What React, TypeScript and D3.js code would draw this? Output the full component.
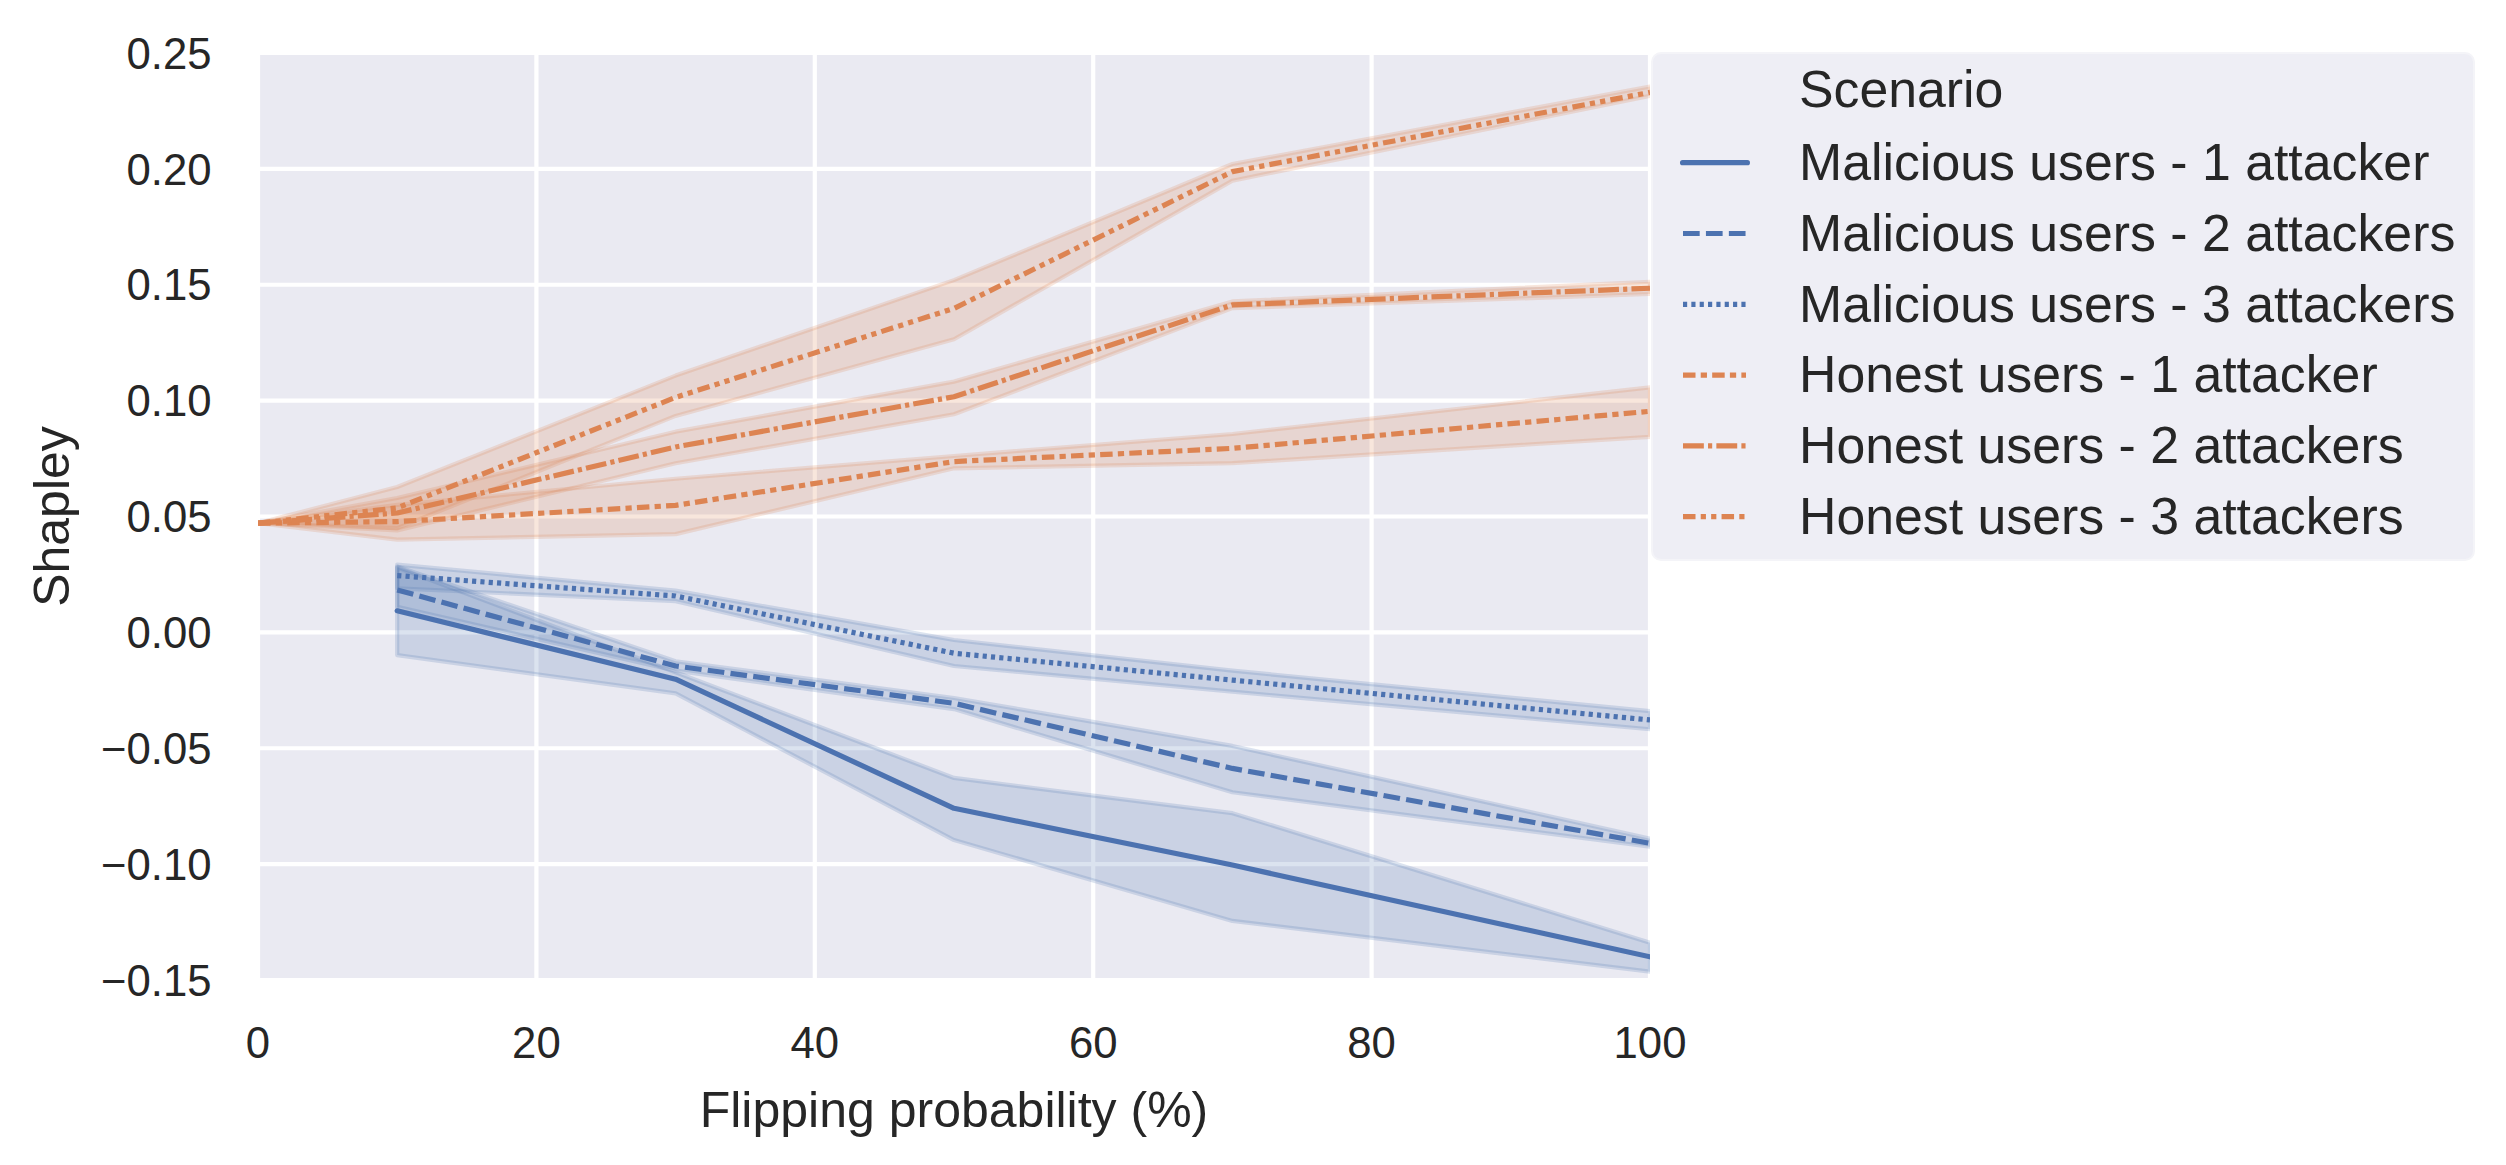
import React from "react";
import * as d3 from "d3";

// ---------- data ----------
const xTicks = [0, 20, 40, 60, 80, 100];
const yTicks = [-0.15, -0.1, -0.05, 0, 0.05, 0.1, 0.15, 0.2, 0.25];

const maliciousX = [10, 30, 50, 70, 100];
const honestX = [0, 10, 30, 50, 70, 100];

const mal1Mean = [0.0093, -0.0202, -0.0759, -0.1004, -0.140];
const mal1Lo = [-0.0098, -0.0263, -0.0896, -0.1245, -0.1464];
const mal1Hi = [0.028, -0.0172, -0.0628, -0.078, -0.1339];

const mal2Mean = [0.0183, -0.0145, -0.0306, -0.0587, -0.091];
const mal2Lo = [0.011, -0.0165, -0.0331, -0.069, -0.0925];
const mal2Hi = [0.0284, -0.0125, -0.0283, -0.049, -0.089];

const mal3Mean = [0.0245, 0.0157, -0.009, -0.0206, -0.0378];
const mal3Lo = [0.019, 0.0135, -0.0145, -0.0256, -0.0418];
const mal3Hi = [0.0292, 0.018, -0.0033, -0.0165, -0.034];

const hon1Mean = [0.0471, 0.0478, 0.0548, 0.0737, 0.0794, 0.0954];
const hon1Lo = [0.0471, 0.040, 0.0424, 0.0708, 0.073, 0.0844];
const hon1Hi = [0.0471, 0.055, 0.0663, 0.0761, 0.0856, 0.1057];

const hon2Mean = [0.0471, 0.0515, 0.080, 0.1017, 0.1413, 0.1485];
const hon2Lo = [0.0471, 0.044, 0.073, 0.0941, 0.1399, 0.146];
const hon2Hi = [0.0471, 0.058, 0.0866, 0.1082, 0.1428, 0.1513];

const hon3Mean = [0.0471, 0.0537, 0.1014, 0.1398, 0.1988, 0.233];
const hon3Lo = [0.0471, 0.045, 0.0934, 0.1265, 0.1949, 0.2315];
const hon3Hi = [0.0471, 0.0627, 0.1108, 0.152, 0.2021, 0.2355];

const seriesLabels = [
  "Malicious users - 1 attacker",
  "Malicious users - 2 attackers",
  "Malicious users - 3 attackers",
  "Honest users - 1 attacker",
  "Honest users - 2 attackers",
  "Honest users - 3 attackers",
];

const BLUE = "#4C72B0";
const ORANGE = "#DD8452";
const U = 4.17; // dash unit in px
const LW = 5.2; // line width in px
const dashPatterns: number[][] = [
  [],
  [4, 1.5],
  [1, 1],
  [3, 1.25, 1.5, 1.25],
  [5, 1, 1, 1],
  [3, 1.25, 1.25, 1.25, 1.25, 1.25],
];

type Series = {
  label: string;
  color: string;
  dash: string;
  x: number[];
  mean: number[];
  lo: number[];
  hi: number[];
};

const series: Series[] = [
  { x: maliciousX, mean: mal1Mean, lo: mal1Lo, hi: mal1Hi },
  { x: maliciousX, mean: mal2Mean, lo: mal2Lo, hi: mal2Hi },
  { x: maliciousX, mean: mal3Mean, lo: mal3Lo, hi: mal3Hi },
  { x: honestX, mean: hon1Mean, lo: hon1Lo, hi: hon1Hi },
  { x: honestX, mean: hon2Mean, lo: hon2Lo, hi: hon2Hi },
  { x: honestX, mean: hon3Mean, lo: hon3Lo, hi: hon3Hi },
].map((s, i) => ({
  ...s,
  label: seriesLabels[i],
  color: i < 3 ? BLUE : ORANGE,
  dash: dashPatterns[i].map((d) => (d * U).toFixed(2)).join(" "),
}));

// ---------- layout ----------
const W = 2506;
const H = 1165;
const L = 258;
const R = 1650;
const T = 53;
const B = 980;
const FONT = "'Liberation Sans', Arial, Helvetica, sans-serif";
const TEXT = "#262626";

export default function App() {
  const x = d3.scaleLinear().domain([0, 100]).range([L, R]);
  const y = d3.scaleLinear().domain([-0.15, 0.25]).range([B, T]);

  const fmt = (v: number) => {
    const s = d3.format(".2f")(Math.abs(v));
    return v < -1e-9 ? "\u2212" + s : s;
  };

  const lineGen = (s: Series) =>
    d3
      .line<number>()
      .x((_, i) => x(s.x[i]))
      .y((d) => y(d))(s.mean) || "";

  const areaGen = (s: Series) =>
    d3
      .area<number>()
      .x((_, i) => x(s.x[i]))
      .y0((_, i) => y(s.lo[i]))
      .y1((_, i) => y(s.hi[i]))(s.mean) || "";

  const legX = 1652;
  const legY = 53;
  const legW = 822;
  const legH = 507;
  const rowH = 70.8;

  return (
    <div style={{ position: "absolute", left: 0, top: 0, width: W, height: H, background: "#fff" }}>
      <svg width={W} height={H} viewBox={`0 0 ${W} ${H}`} style={{ display: "block" }}>
        <defs>
          <clipPath id="plotClip">
            <rect x={L} y={T} width={R - L} height={B - T} />
          </clipPath>
        </defs>
        <rect x={0} y={0} width={W} height={H} fill="#ffffff" />
        <rect x={L} y={T} width={R - L} height={B - T} fill="#EAEAF2" />
        {/* grid */}
        {xTicks.map((t) => (
          <line key={"gx" + t} x1={x(t)} x2={x(t)} y1={T} y2={B} stroke="#fff" strokeWidth={4.2} />
        ))}
        {yTicks.map((t) => (
          <line key={"gy" + t} x1={L} x2={R} y1={y(t)} y2={y(t)} stroke="#fff" strokeWidth={4.2} />
        ))}
        <g clipPath="url(#plotClip)">
          {/* bands */}
          {series.map((s, i) => (
            <path
              key={"band" + i}
              d={areaGen(s)}
              fill={s.color}
              fillOpacity={0.2}
              stroke={s.color}
              strokeOpacity={0.2}
              strokeWidth={4.2}
              strokeLinejoin="round"
            />
          ))}
          {/* lines */}
          {series.map((s, i) => (
            <path
              key={"line" + i}
              d={lineGen(s)}
              fill="none"
              stroke={s.color}
              strokeWidth={LW}
              strokeDasharray={s.dash || undefined}
              strokeLinecap={s.dash ? "butt" : "round"}
              strokeLinejoin="round"
            />
          ))}
        </g>
        {/* tick labels */}
        {yTicks.map((t) => (
          <text
            key={"ty" + t}
            x={211.5}
            y={y(t)}
            dy="0.36em"
            textAnchor="end"
            fontFamily={FONT}
            fontSize={43.7}
            fill={TEXT}
          >
            {fmt(t)}
          </text>
        ))}
        {xTicks.map((t) => (
          <text
            key={"tx" + t}
            x={x(t)}
            y={1058}
            textAnchor="middle"
            fontFamily={FONT}
            fontSize={43.7}
            fill={TEXT}
          >
            {t}
          </text>
        ))}
        {/* axis labels */}
        <text x={(L + R) / 2} y={1127} textAnchor="middle" fontFamily={FONT} fontSize={50} fill={TEXT}>
          Flipping probability (%)
        </text>
        <text
          transform={`translate(68.5, ${(T + B) / 2}) rotate(-90)`}
          textAnchor="middle"
          fontFamily={FONT}
          fontSize={50}
          fill={TEXT}
        >
          Shapley
        </text>
        {/* legend */}
        <rect x={legX} y={legY} width={legW} height={legH} rx={9} fill="#EEEEF5" stroke="#F4F4F8" strokeWidth={2} />
        <text x={1799} y={107.3} fontFamily={FONT} fontSize={51.8} fill={TEXT}>
          Scenario
        </text>
        {series.map((s, i) => {
          const cy = 162.7 + rowH * i;
          return (
            <g key={"leg" + i}>
              <line
                x1={s.dash ? 1683 : 1682.6}
                x2={s.dash ? 1746 : 1747.4}
                y1={cy}
                y2={cy}
                stroke={s.color}
                strokeWidth={LW}
                strokeDasharray={s.dash || undefined}
                strokeLinecap={s.dash ? "butt" : "round"}
              />
              <text x={1799} y={180 + rowH * i} fontFamily={FONT} fontSize={51.8} fill={TEXT}>
                {s.label}
              </text>
            </g>
          );
        })}
      </svg>
    </div>
  );
}
